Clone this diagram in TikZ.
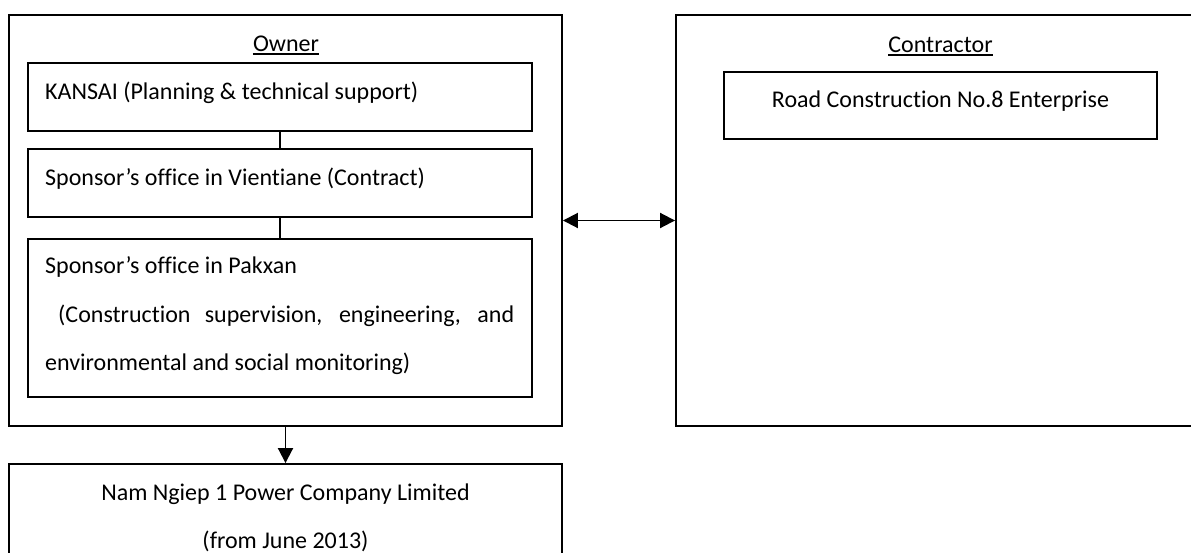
\documentclass[tikz,border=0pt]{standalone}
\usepackage{fontspec}
\setmainfont[Ligatures=NoCommon]{Carlito}
\usetikzlibrary{arrows.meta}
\begin{document}
\begin{tikzpicture}[x=1pt,y=-1pt,
  box/.style={draw, line width=1.9pt, inner sep=0pt, rectangle},
  txt/.style={inner sep=0pt, anchor=base west, font=\fontsize{24}{28}\selectfont},
  ctxt/.style={inner sep=0pt, anchor=base, font=\fontsize{24}{28}\selectfont},
  uline/.style={line width=1.4pt},
  conn/.style={line width=1.7pt},
  tip/.style={line width=1.9pt, -{Triangle[length=15pt,width=15pt]}},
  dtip/.style={line width=1.9pt, {Triangle[length=15pt,width=15pt]}-{Triangle[length=15pt,width=15pt]}}]
\useasboundingbox (0,0) rectangle (1191,552);
\clip (0,0) rectangle (1191,552);
% boxes
\node[box, minimum width=553pt, minimum height=411pt] (owner) at (285.5,220.5) {};
\node[box, minimum width=534pt, minimum height=411pt] (contractor) at (943,220.5) {};
\node[box, minimum width=504pt, minimum height=68pt] (kansai) at (280,97) {};
\node[box, minimum width=504pt, minimum height=68pt] (vientiane) at (280,183) {};
\node[box, minimum width=504pt, minimum height=158pt] (pakxan) at (280,318) {};
\node[box, minimum width=433pt, minimum height=67pt] (road) at (940.5,105.5) {};
\node[box, minimum width=553pt, minimum height=116pt] (nnp) at (285.5,522) {};
% texts
\node[ctxt] (ownerlbl) at (286,51) {Owner};
\node[ctxt] (contrlbl) at (940.5,52) {Contractor};
\draw[uline] ([yshift=-3pt]ownerlbl.base west) -- ([yshift=-3pt]ownerlbl.base east);
\draw[uline] ([yshift=-3pt]contrlbl.base west) -- ([yshift=-3pt]contrlbl.base east);
\node[txt] (kansaitxt) at (45,99) {KANSAI (Planning \& technical support)};
\node[txt] (vientianetxt) at (45,185) {Sponsor’s office in Vientiane (Contract)};
\node[txt] (pak1) at (45,273) {Sponsor’s office in Pakxan};
\node[txt] (pak2) at (58,322) {\makebox[456pt][s]{(Construction supervision, engineering, and}};
\node[txt] (pak3) at (45,370) {environmental and social monitoring)};
\node[ctxt] (roadtxt) at (940.5,107) {Road Construction No.8 Enterprise};
\node[ctxt] (nnp1) at (285.5,500.5) {Nam Ngiep 1 Power Company Limited};
\node[ctxt] (nnp2) at (285.5,548) {(from June 2013)};
% connectors
\draw[conn] (kansai.south) -- (vientiane.north);
\draw[conn] (vientiane.south) -- (pakxan.north);
\draw[dtip] (owner.east) -- (contractor.west);
\draw[tip] (owner.south) -- (nnp.north);
\end{tikzpicture}
\end{document}
